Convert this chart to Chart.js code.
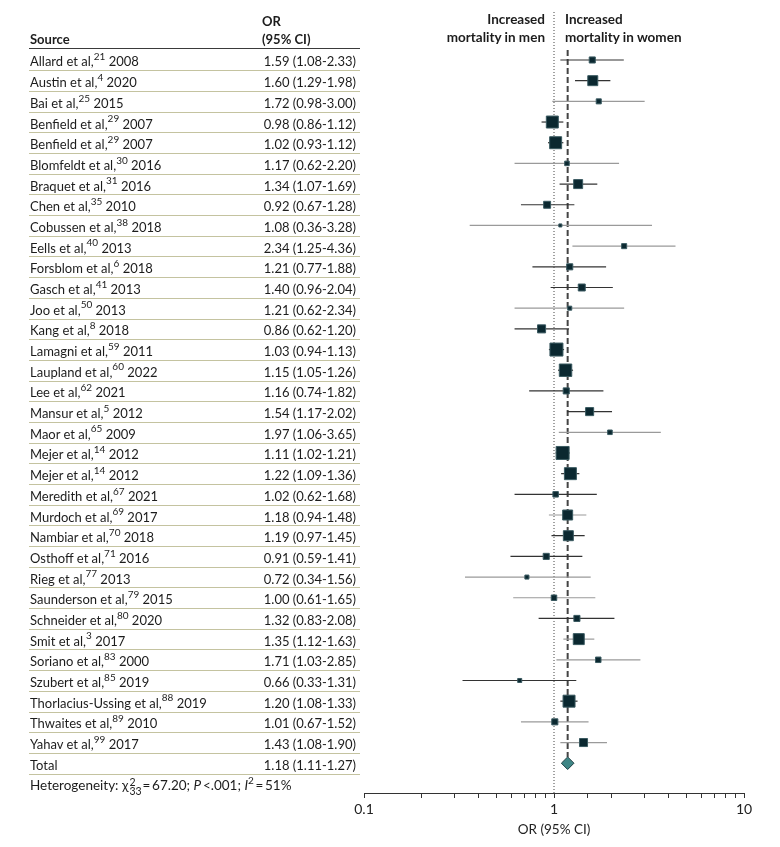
<!DOCTYPE html>
<html><head><meta charset="utf-8">
<script src="https://cdn.jsdelivr.net/npm/chart.js@4"></script>
<style>
body{margin:0;background:#fff;font-family:Lato,"Liberation Sans",sans-serif;color:#1c1c1c;}
#wrap{position:relative;width:780px;height:847px;overflow:hidden;}
canvas{position:absolute;left:0;top:0;}
.t{position:absolute;font-size:13px;white-space:nowrap;line-height:16px;height:16px;}
.b{font-weight:bold;}
.hd{font-size:13.5px;font-weight:bold;}
.sep{position:absolute;left:29px;width:331px;height:1px;background:#c4c3a0;}
.hline{position:absolute;left:29px;width:331px;height:1px;background:#3a3a3a;}
sup.r{font-size:10px;line-height:0;position:relative;top:-1px;}
.het{font-size:13.5px;}
.ss{display:inline-flex;flex-direction:column;font-size:10.5px;line-height:9px;vertical-align:middle;position:relative;top:0px;margin:0 1px;}
</style></head><body>
<div id="wrap"><canvas id="c" width="780" height="847"></canvas><div id="overlay"></div></div>
<script>
// ---- data ----
const sources = ["Allard et al","Austin et al","Bai et al","Benfield et al","Benfield et al","Blomfeldt et al","Braquet et al","Chen et al","Cobussen et al","Eells et al","Forsblom et al","Gasch et al","Joo et al","Kang et al","Lamagni et al","Laupland et al","Lee et al","Mansur et al","Maor et al","Mejer et al","Mejer et al","Meredith et al","Murdoch et al","Nambiar et al","Osthoff et al","Rieg et al","Saunderson et al","Schneider et al","Smit et al","Soriano et al","Szubert et al","Thorlacius-Ussing et al","Thwaites et al","Yahav et al"];
const refs = [21,4,25,29,29,30,31,35,38,40,6,41,50,8,59,60,62,5,65,14,14,67,69,70,71,77,79,80,3,83,85,88,89,99];
const years = [2008,2020,2015,2007,2007,2016,2016,2010,2018,2013,2018,2013,2013,2018,2011,2022,2021,2012,2009,2012,2012,2021,2017,2018,2016,2013,2015,2020,2017,2000,2019,2019,2010,2017];
const orValues = [1.59,1.60,1.72,0.98,1.02,1.17,1.34,0.92,1.08,2.34,1.21,1.40,1.21,0.86,1.03,1.15,1.16,1.54,1.97,1.11,1.22,1.02,1.18,1.19,0.91,0.72,1.00,1.32,1.35,1.71,0.66,1.20,1.01,1.43];
const ciLow = [1.08,1.29,0.98,0.86,0.93,0.62,1.07,0.67,0.36,1.25,0.77,0.96,0.62,0.62,0.94,1.05,0.74,1.17,1.06,1.02,1.09,0.62,0.94,0.97,0.59,0.34,0.61,0.83,1.12,1.03,0.33,1.08,0.67,1.08];
const ciHigh = [2.33,1.98,3.00,1.12,1.12,2.20,1.69,1.28,3.28,4.36,1.88,2.04,2.34,1.20,1.13,1.26,1.82,2.02,3.65,1.21,1.36,1.68,1.48,1.45,1.41,1.56,1.65,2.08,1.63,2.85,1.31,1.33,1.52,1.90];
// estimated study weights (%)
const weights = [1.6,4.3,1.1,6.2,6.2,0.9,3.5,2.1,0.4,1.1,1.6,2.1,0.7,2.8,7.3,6.7,1.6,2.8,0.9,7.3,6.2,1.3,4.3,4.3,1.6,0.7,1.3,1.6,5.2,1.3,0.7,6.2,1.6,2.8];
const totalLabel = "Total";
const totalOR = 1.18, totalLow = 1.11, totalHigh = 1.27;
const hetChi = 67.20, hetDf = 33, hetP = "<.001", hetI2 = 51;
const xTickLabels = [0.1, 1, 10];

// ---- styling helpers ----
const lightRows = [2,5,8,9,12,18,22,25,26,28,29,32,33];
const rowCount = sources.length;
const totalRow = rowCount;
const yMin = -2.32, yMax = 35.44;

const ciData = [];
sources.forEach((_, i) => { ciData.push({x: ciLow[i], y: i}, {x: ciHigh[i], y: i}, {x: null, y: null}); });
const sqData = orValues.map((v, i) => ({x: v, y: i}));
const sqRadius = weights.map(w => Math.sqrt(w * 23.15) / 1.414);

const chart = new Chart(document.getElementById('c'), {
  type: 'scatter',
  data: {
    datasets: [
      {type:'scatter', data: sqData, pointStyle:'rect', pointRadius: sqRadius, backgroundColor:'#0b2830', borderColor:'#3a5a61', borderWidth:1, order:0},
      {type:'scatter', data: [{x: totalOR, y: totalRow}], pointStyle:'rectRot', pointRadius: 6.3, backgroundColor:'#3f8686', borderColor:'#1d3e43', borderWidth:1, order:0},
      {type:'line', data: ciData, spanGaps:false, pointRadius:0, borderWidth:1.2, borderColor:'#333',
        segment:{borderColor: ctx => lightRows.includes(Math.floor(ctx.p0DataIndex/3)) ? '#9a9a9a' : '#333'}, order:2},
      {type:'line', data: [{x: totalOR, y: -0.48}, {x: totalOR, y: totalRow - 0.3}], pointRadius:0, borderWidth:2, borderColor:'#444', borderDash:[6,3], order:3},
      {type:'line', data: [{x: 1, y: yMin}, {x: 1, y: yMax}], pointRadius:0, borderWidth:1, borderColor:'#444', borderDash:[1,2], order:4}
    ]
  },
  options: {
    responsive:false, animation:false, events:[],
    layout:{padding:{left:364, right:36, top:12, bottom:6}},
    plugins:{legend:{display:false}, tooltip:{enabled:false}},
    scales:{
      x:{type:'logarithmic', min:0.1, max:10, position:'bottom',
        border:{display:true, color:'#333', width:1},
        grid:{drawOnChartArea:false, drawTicks:true, tickLength:5, tickColor:'#333'},
        ticks:{autoSkip:false, maxRotation:0, color:'#222', padding:3, font:{family:'Lato', size:14},
          callback:(v) => xTickLabels.some(t => Math.abs(t - v) < 1e-9) ? String(v) : ''},
        title:{display:true, text:'OR (95% CI)', color:'#222', font:{family:'Lato', size:13.5}, padding:{top:0, bottom:3}},
        afterFit: s => { s.paddingLeft = 0; s.paddingRight = 0; s.height = 48; }
      },
      y:{type:'linear', min:yMin, max:yMax, reverse:true, display:false}
    }
  }
});

// ---- table overlay (real text) ----
const ov = document.getElementById('overlay');
function add(html, cls, style) {
  const d = document.createElement('div');
  d.className = cls; d.innerHTML = html; Object.assign(d.style, style); ov.appendChild(d); return d;
}
const ys = chart.scales.y;
const pitch = ys.getPixelForValue(1) - ys.getPixelForValue(0);
const fmt = v => v.toFixed(2);
for (let i = 0; i <= rowCount; i++) {
  const py = ys.getPixelForValue(i);
  const isT = i === rowCount;
  const name = isT ? totalLabel : `${sources[i]},<sup class="r">${refs[i]}</sup> ${years[i]}`;
  const val = isT ? `${fmt(totalOR)} (${fmt(totalLow)}-${fmt(totalHigh)})` : `${fmt(orValues[i])} (${fmt(ciLow[i])}-${fmt(ciHigh[i])})`;
  add(name, 't', {left:'30px', top:(py - 6.5) + 'px'});
  add(val, 't', {left:'200px', width:'156px', textAlign:'right', top:(py - 6.5) + 'px'});
  add('', 'sep', {top:(py + pitch/2) + 'px'});
}
const topY = ys.getPixelForValue(0) - pitch/2;
add('', 'hline', {top:(topY - 1.5) + 'px'});
add('Source', 't b', {left:'30px', top:(topY - 19) + 'px'});
add('OR', 't b', {left:'262px', top:(topY - 37) + 'px'});
add('(95% CI)', 't b', {left:'262px', top:(topY - 19) + 'px'});
const hy = ys.getPixelForValue(totalRow) + 22;
add(`Heterogeneity: χ<span class="ss"><span>2</span><span>${hetDf}</span></span>=&thinsp;${hetChi.toFixed(2)}; <i>P</i>&thinsp;${hetP}; <i>I</i><sup class="r">2</sup>&thinsp;=&thinsp;${hetI2}%`, 't het', {left:'30px', top:(hy - 8) + 'px'});
const px1 = chart.scales.x.getPixelForValue(1);
add('Increased<br>mortality in men', 't hd', {left:(px1 - 9 - 200) + 'px', width:'200px', textAlign:'right', top:'11px', height:'36px', lineHeight:'17.5px'});
add('Increased<br>mortality in women', 't hd', {left:(px1 + 11) + 'px', top:'11px', height:'36px', lineHeight:'17.5px'});
</script>
</body></html>
